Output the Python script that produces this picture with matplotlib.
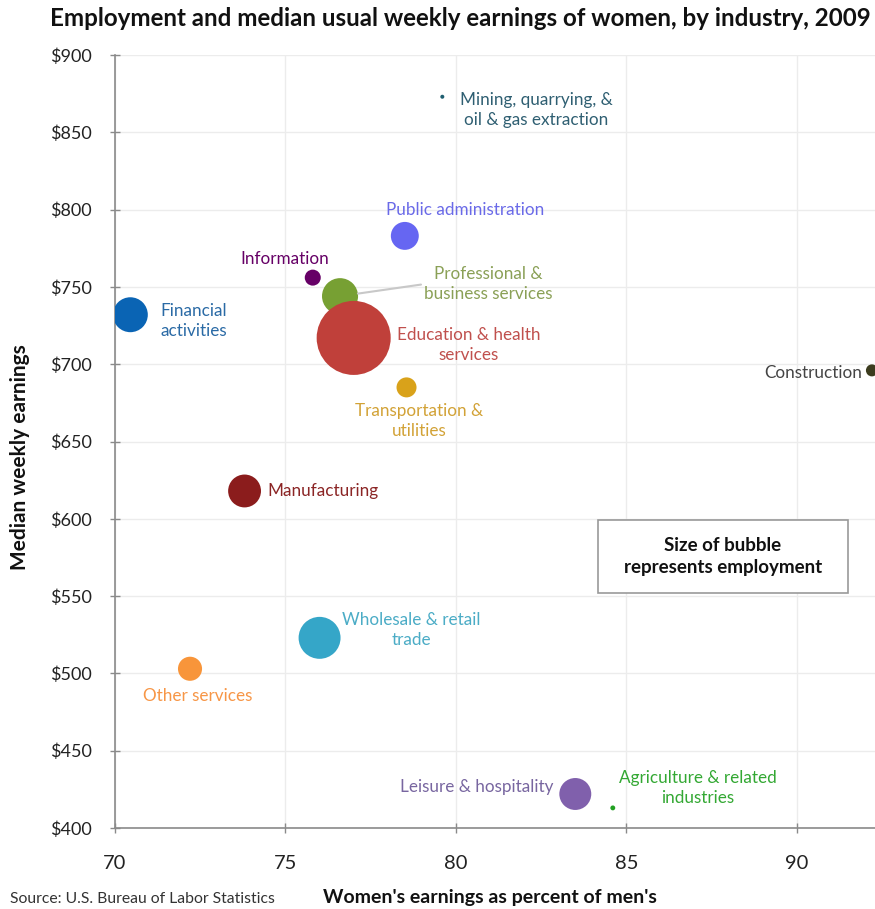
import matplotlib
matplotlib.use("Agg")
import matplotlib.pyplot as plt
import matplotlib.ticker as mticker
from matplotlib.patches import Rectangle

# ---- data ----
industries = ["Mining, quarrying, &\noil & gas extraction", "Public administration", "Information",
              "Professional &\nbusiness services", "Education & health\nservices", "Financial\nactivities",
              "Transportation &\nutilities", "Construction", "Manufacturing", "Wholesale & retail\ntrade",
              "Other services", "Leisure & hospitality", "Agriculture & related\nindustries"]
pct_of_men = [79.6, 78.5, 75.8, 76.6, 77.0, 70.45, 78.55, 92.2, 73.8, 76.0, 72.2, 83.5, 84.6]
median_weekly = [873, 783, 756, 744, 717, 732, 685, 696, 618, 523, 503, 422, 413]
employment = [40, 1950, 640, 3250, 13700, 3050, 1000, 360, 2700, 4400, 1450, 2550, 60]  # thousands (approx.)

x_ticks = [70, 75, 80, 85, 90]
y_ticks = [400, 450, 500, 550, 600, 650, 700, 750, 800, 850, 900]

# ---- styles ----
bubble_colors = ["#1f5f70", "#6666f2", "#660066", "#77a033", "#c0403a", "#0a64b4",
                 "#d9a21a", "#3c3c1e", "#8b1c1c", "#35a6c8", "#f8953a", "#8060ac", "#22a022"]
label_colors = ["#2f5f72", "#6a6ae8", "#660066", "#8aa056", "#c0504d", "#2a6aa5",
                "#d2a236", "#444444", "#8b2525", "#4bacc6", "#f79646", "#7866a0", "#33a833"]
# label offsets in pixels (dx, dy) and alignment
label_offsets = [(94, -13), (60, 26), (-28, 19), (148, 12), (115, -7), (63, -6),
                 (13, -34), (-10, -3), (23, 0), (92, 8), (8, -27), (-22, 7), (85, 20)]
label_ha = ["center", "center", "center", "center", "center", "center",
            "center", "right", "left", "center", "center", "right", "center"]

FONT = "Lato"
fig = plt.figure(figsize=(8.75, 9.09), dpi=100)
ax = fig.add_axes([115 / 875, 81 / 909, 760 / 875, 773 / 909])

sizes = [e * 0.2074 for e in employment]
ax.scatter(pct_of_men, median_weekly, s=sizes, c=bubble_colors, linewidths=0, zorder=3)

for i, name in enumerate(industries):
    dx, dy = label_offsets[i]
    kw = {}
    if i == 3:
        kw["arrowprops"] = dict(arrowstyle="-", color="#c8c8c8", lw=1.5, relpos=(0, 0.5),
                                shrinkA=0, shrinkB=13)
    ax.annotate(name, xy=(pct_of_men[i], median_weekly[i]), xytext=(dx, dy),
                textcoords="offset pixels", ha=label_ha[i], va="center", multialignment="center",
                fontsize=12.3, color=label_colors[i], family=FONT, linespacing=1.3, zorder=4, **kw)

ax.set_xlim(70, 92.29)
ax.set_ylim(400, 900)
ax.set_xticks(x_ticks)
ax.set_yticks(y_ticks)
ax.yaxis.set_major_formatter(mticker.FuncFormatter(lambda v, p: f"${v:.0f}"))
ax.grid(True, color="#ececec", lw=1)
ax.set_axisbelow(True)
for s in ["top", "right"]:
    ax.spines[s].set_visible(False)
for s in ["left", "bottom"]:
    ax.spines[s].set_color("#8a8a8a")
    ax.spines[s].set_linewidth(1.2)
ax.tick_params(axis="both", direction="inout", length=7, color="#8a8a8a", width=1)
ax.tick_params(axis="y", pad=13, labelsize=13, labelcolor="#222222")
ax.tick_params(axis="x", pad=16, labelsize=14.5, labelcolor="#222222")
for lab in ax.get_xticklabels() + ax.get_yticklabels():
    lab.set_family(FONT)

ax.add_patch(Rectangle((0.6355, 0.304), 0.329, 0.0944, transform=ax.transAxes,
                       fc="white", ec="#999999", lw=1.2, zorder=5))
ax.text(0.8, 0.3515, "Size of bubble\nrepresents employment", transform=ax.transAxes,
        ha="center", va="center", fontsize=13.5, fontweight="bold", family=FONT, color="#111111",
        linespacing=1.35, zorder=6)

fig.text(0.526, 0.980, "Employment and median usual weekly earnings of women, by industry, 2009",
         ha="center", va="center", fontsize=17.4, fontweight="bold", family=FONT, color="#111111")
fig.text(0.56, 0.013, "Women's earnings as percent of men's", ha="center", va="center",
         fontsize=14, fontweight="bold", family=FONT, color="#111111")
fig.text(0.023, 0.497, "Median weekly earnings", ha="center", va="center", rotation=90,
         fontsize=15, fontweight="bold", family=FONT, color="#111111")
fig.text(0.012, 0.011, "Source: U.S. Bureau of Labor Statistics", ha="left", va="center",
         fontsize=11.3, family=FONT, color="#333333")

fig.savefig("out.png", dpi=100, facecolor="white")
